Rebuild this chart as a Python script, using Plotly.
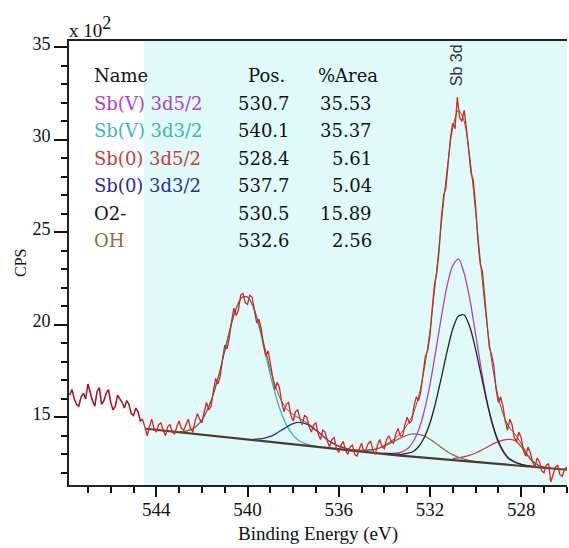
import numpy as np
import plotly.graph_objects as go

# ---------------- data (CPS in units of 10^2) ----------------
RAW_E_START, RAW_E_STEP = 547.8, -0.1
RAW_CPS = [
    16.2, 16.5, 16.0, 15.7, 15.6, 16.1, 16.3, 16.0, 16.8, 16.3,   # 547.8 ..
    15.9, 15.6, 16.4, 16.6, 15.7, 15.9, 16.3, 16.5, 15.8, 15.4,   # 546.8 ..
    15.6, 16.2, 16.0, 15.8, 15.5, 15.9, 15.7, 15.2, 15.1, 15.5,   # 545.8 ..
    15.3, 14.8, 14.9,                                             # 544.8 .. 544.6
    14.5, 14.0, 14.5, 14.9, 14.4, 14.2, 14.6, 14.7, 14.3, 14.0,   # 544.5 ..
    14.5, 14.6, 14.2, 14.1, 14.5, 14.8, 14.4, 14.3, 14.6, 14.9,   # 543.5 ..
    14.4, 14.2, 14.8, 15.2, 14.9, 14.7, 15.3, 15.8, 15.4, 15.6,   # 542.5 ..
    16.4, 17.1, 16.8, 17.2, 18.1, 18.9, 18.7, 19.3, 20.2, 20.9,   # 541.5 ..
    20.5, 20.8, 21.6, 21.7, 21.2, 21.1, 21.6, 21.5, 20.8, 20.1,   # 540.5 ..
    20.3, 19.8, 18.9, 18.3, 18.6, 17.9, 17.1, 16.5, 16.9, 16.6,   # 539.5 ..
    15.8, 15.3, 15.7, 15.8, 15.1, 14.8, 15.3, 15.4, 14.9, 14.6,   # 538.5 ..
    15.1, 15.0, 14.5, 14.2, 14.6, 14.7, 14.1, 13.8, 14.3, 14.2,   # 537.5 ..
    13.7, 13.4, 13.8, 13.9, 13.3, 13.1, 13.5, 13.7, 13.2, 13.0,   # 536.5 ..
    13.4, 13.5, 13.0, 12.9, 13.3, 13.6, 13.1, 13.3, 13.6, 13.7,   # 535.5 ..
    13.2, 13.0, 13.5, 13.8, 13.4, 13.3, 13.8, 14.0, 13.7, 13.6,   # 534.5 ..
    14.1, 14.4, 14.0, 14.0, 14.6, 15.0, 14.7, 14.8, 15.6, 16.1,   # 533.5 ..
    15.9, 16.4, 17.4, 18.3, 18.6, 19.4, 20.9, 22.2, 22.8, 24.0,   # 532.5 ..
    25.8, 27.0, 27.4, 28.6, 30.1, 30.9, 30.6, 32.3, 31.2, 31.0,   # 531.5 ..
    31.6, 30.6, 29.5, 28.2, 27.8, 26.5, 24.6, 23.3, 22.9, 21.6,   # 530.5 ..
    19.9, 18.8, 18.4, 17.8, 16.5, 15.8, 16.1, 15.6, 14.8, 14.3,   # 529.5 ..
    14.9, 14.6, 13.9, 13.7, 14.2, 13.9, 13.2, 12.9, 13.4, 13.1,   # 528.5 ..
    12.6, 12.3, 12.8, 12.6, 12.1, 12.0, 12.4, 12.5, 11.5, 11.9,   # 527.5 ..
    12.3, 12.4, 11.9, 11.8, 12.2, 12.3, 11.9,                     # 526.5 .. 525.9
]
RAW_REGION_START_INDEX = 32   # 544.6 eV, first point inside the fitted region

ENV_E_START, ENV_E_STEP = 544.5, -0.25
ENVELOPE = [14.38, 14.35, 14.32, 14.28, 14.26, 14.24, 14.23, 14.24, 14.33, 14.51, 14.86, 15.43, 16.25, 17.33,
            18.59, 19.84, 20.88, 21.48, 21.50, 20.99, 20.01, 18.80, 17.59, 16.59, 15.86, 15.40, 15.14, 14.96,
            14.78, 14.58, 14.32, 14.05, 13.79, 13.59, 13.44, 13.34, 13.26, 13.23, 13.21, 13.22, 13.25, 13.32,
            13.49, 13.67, 13.90, 14.18, 14.59, 15.15, 16.11, 17.60, 19.68, 22.41, 25.47, 28.38, 30.66, 31.61,
            31.00, 29.03, 26.13, 22.95, 20.02, 17.70, 16.06, 15.03, 14.41, 14.06, 13.57, 13.05, 12.65, 12.41,
            12.30, 12.26, 12.22, 12.19, 12.17, 12.14]

BG_E = [544.45, 533.43, 525.75]
BG_CPS = [14.38, 12.94, 12.14]

COMP_STEP = -0.25
SBV_52_START = 534.0
SBV_52 = [13.06, 13.05, 13.06, 13.12, 13.28, 13.65, 14.30, 15.34, 16.76, 18.55, 20.43, 22.10, 23.20, 23.55,
          22.78, 21.37, 19.51, 17.59, 15.88, 14.55, 13.62, 13.04, 12.70, 12.55, 12.46, 12.39, 12.34]
SBV_32_START = 543.25
SBV_32 = [14.24, 14.23, 14.24, 14.33, 14.51, 14.86, 15.43, 16.25, 17.33, 18.59, 19.84, 20.88, 21.48, 21.50,
          20.95, 19.92, 18.63, 17.29, 16.11, 15.16, 14.48, 14.03, 13.75, 13.59, 13.50, 13.44]
SB0_52_START = 531.0
SB0_52 = [12.78, 12.81, 12.87, 12.95, 13.07, 13.22, 13.38, 13.55, 13.69, 13.78, 13.81, 13.74, 13.41, 12.97,
          12.61, 12.41, 12.30, 12.26]
SB0_32_START = 539.75
SB0_32 = [13.81, 13.83, 13.88, 13.97, 14.12, 14.31, 14.50, 14.66, 14.72, 14.67, 14.53, 14.30, 14.05, 13.79,
          13.59, 13.44, 13.34, 13.25, 13.20]
O2_START = 534.0
O2 = [13.05, 13.03, 13.01, 13.00, 13.05, 13.14, 13.41, 13.91, 14.69, 15.80, 17.15, 18.55, 19.77, 20.48, 20.53,
      19.88, 18.69, 17.25, 15.82, 14.62, 13.71, 13.11, 12.74, 12.57, 12.46, 12.39, 12.34]
OH_START = 535.5
OH = [13.23, 13.22, 13.21, 13.22, 13.25, 13.32, 13.44, 13.59, 13.75, 13.90, 14.04, 14.10, 14.08, 13.99, 13.81,
      13.60, 13.37, 13.15, 12.98, 12.84, 12.74, 12.66, 12.60, 12.57]

TABLE_NAMES = ["Sb(V) 3d5/2", "Sb(V) 3d3/2", "Sb(0) 3d5/2", "Sb(0) 3d3/2", "O2-", "OH"]
TABLE_POS = ["530.7", "540.1", "528.4", "537.7", "530.5", "532.6"]
TABLE_AREA = ["35.53", "35.37", "5.61", "5.04", "15.89", "2.56"]
TABLE_COLORS = ["#b43cc8", "#3cb4b4", "#c83c3c", "#2a2aa0", "#111111", "#8a6a48"]

X_TICKS = [544, 540, 536, 532, 528]
X_MINOR = list(range(526, 548))
Y_TICKS = [15, 20, 25, 30, 35]
Y_MINOR = list(range(12, 36))
X_RANGE = [547.83, 525.99]
Y_RANGE = [11.34, 35.34]
REGION_LEFT = 544.54


def energies(start, step, n):
    return np.round(start + step * np.arange(n), 3)


raw_e = energies(RAW_E_START, RAW_E_STEP, len(RAW_CPS))
i0 = RAW_REGION_START_INDEX

fig = go.Figure()

# components
comps = [
    (SBV_32_START, SBV_32, TABLE_COLORS[1]),
    (SB0_32_START, SB0_32, TABLE_COLORS[3]),
    (OH_START, OH, TABLE_COLORS[5]),
    (SB0_52_START, SB0_52, TABLE_COLORS[2]),
    (SBV_52_START, SBV_52, TABLE_COLORS[0]),
    (O2_START, O2, "#222222"),
]
for start, vals, col in comps:
    fig.add_trace(go.Scatter(x=energies(start, COMP_STEP, len(vals)), y=vals, mode="lines",
                             line=dict(color=col, width=1.3, shape="spline", smoothing=0.8),
                             hoverinfo="skip"))

# background
fig.add_trace(go.Scatter(x=BG_E, y=BG_CPS, mode="lines", line=dict(color="#4a3a30", width=2.2),
                         hoverinfo="skip"))

# raw data
fig.add_trace(go.Scatter(x=raw_e[:i0 + 1], y=RAW_CPS[:i0 + 1], mode="lines",
                         line=dict(color="#a0101e", width=1.5), hoverinfo="skip"))
fig.add_trace(go.Scatter(x=raw_e[i0:], y=RAW_CPS[i0:], mode="lines",
                         line=dict(color="#e02020", width=1.3), hoverinfo="skip"))

# envelope
fig.add_trace(go.Scatter(x=energies(ENV_E_START, ENV_E_STEP, len(ENVELOPE)), y=ENVELOPE, mode="lines",
                         line=dict(color="#8a4a30", width=1.0, shape="spline", smoothing=0.8),
                         hoverinfo="skip"))

L, R, T, B = 69, 2, 41, 63
W, H = 569, 548
pw, ph = W - L - R, H - T - B


def px(xp):
    return (xp - L) / pw


def py(yp):
    return (H - B - yp) / ph


serif = "Liberation Serif, Times New Roman, serif"
tfont = "DejaVu Serif, serif"

ann = []
ann.append(dict(x=px(67), y=py(27), xref="paper", yref="paper",
                text="x 10<sup><span style='font-size:18px'>2</span></sup>", showarrow=False,
                xanchor="left", yanchor="middle", font=dict(family=serif, size=19, color="#111")))
ann.append(dict(x=px(20), y=py(263), xref="paper", yref="paper", text="CPS", showarrow=False, textangle=-90,
                xanchor="center", yanchor="middle", font=dict(family=serif, size=16, color="#111")))
ann.append(dict(x=px(318), y=py(534), xref="paper", yref="paper", text="Binding Energy (eV)", showarrow=False,
                xanchor="center", yanchor="middle", font=dict(family=serif, size=19, color="#111")))
ann.append(dict(x=530.85, y=py(65), xref="x", yref="paper", text="Sb 3d", showarrow=False, textangle=-90,
                xanchor="center", yanchor="middle",
                font=dict(family="Liberation Sans, Arial", size=16, color="#333")))

hdr_y = 75
row_y0, row_dy = 103, 27.6
ann.append(dict(x=px(92), y=py(hdr_y), xref="paper", yref="paper", text="Name", showarrow=False,
                xanchor="left", yanchor="middle", font=dict(family=tfont, size=18, color="#111")))
ann.append(dict(x=px(287), y=py(hdr_y), xref="paper", yref="paper", text="Pos.", showarrow=False,
                xanchor="right", yanchor="middle", font=dict(family=tfont, size=18, color="#111")))
ann.append(dict(x=px(380), y=py(hdr_y), xref="paper", yref="paper", text="%Area", showarrow=False,
                xanchor="right", yanchor="middle", font=dict(family=tfont, size=18, color="#111")))
for i, (n, p, a, c) in enumerate(zip(TABLE_NAMES, TABLE_POS, TABLE_AREA, TABLE_COLORS)):
    yy = py(row_y0 + row_dy * i)
    ann.append(dict(x=px(92), y=yy, xref="paper", yref="paper", text=n, showarrow=False,
                    xanchor="left", yanchor="middle", font=dict(family=tfont, size=18, color=c)))
    ann.append(dict(x=px(292), y=yy, xref="paper", yref="paper", text=p, showarrow=False,
                    xanchor="right", yanchor="middle", font=dict(family=tfont, size=18, color="#111")))
    ann.append(dict(x=px(374), y=yy, xref="paper", yref="paper", text=a, showarrow=False,
                    xanchor="right", yanchor="middle", font=dict(family=tfont, size=18, color="#111")))

fig.update_layout(
    width=W, height=H, margin=dict(l=L, r=R, t=T, b=B),
    paper_bgcolor="white", plot_bgcolor="white", showlegend=False,
    annotations=ann,
    shapes=[dict(type="rect", xref="x", yref="paper", x0=REGION_LEFT, x1=X_RANGE[1], y0=0, y1=1,
                 fillcolor="#e0fafa", line=dict(width=0), layer="below")],
    xaxis=dict(range=X_RANGE, tickmode="array", tickvals=X_TICKS, ticktext=[str(v) for v in X_TICKS],
               ticks="outside", ticklen=10, tickwidth=1.5, tickcolor="#111", ticklabelstandoff=-4,
               minor=dict(tickmode="array", tickvals=X_MINOR, ticks="outside", ticklen=6, tickwidth=1.5,
                          tickcolor="#111"),
               showline=True, linecolor="#222", linewidth=2, mirror=True, showgrid=False, zeroline=False,
               tickfont=dict(family=serif, size=19, color="#111")),
    yaxis=dict(range=Y_RANGE, tickmode="array", tickvals=Y_TICKS, ticktext=[str(v) for v in Y_TICKS],
               ticks="outside", ticklen=13, tickwidth=1.5, tickcolor="#111", ticklabelshift=-4,
               ticklabelstandoff=0,
               minor=dict(tickmode="array", tickvals=Y_MINOR, ticks="outside", ticklen=6, tickwidth=1.5,
                          tickcolor="#111"),
               showline=True, linecolor="#222", linewidth=2, showgrid=False, zeroline=False,
               tickfont=dict(family=serif, size=18, color="#111")),
)

fig.write_html("out.html")
